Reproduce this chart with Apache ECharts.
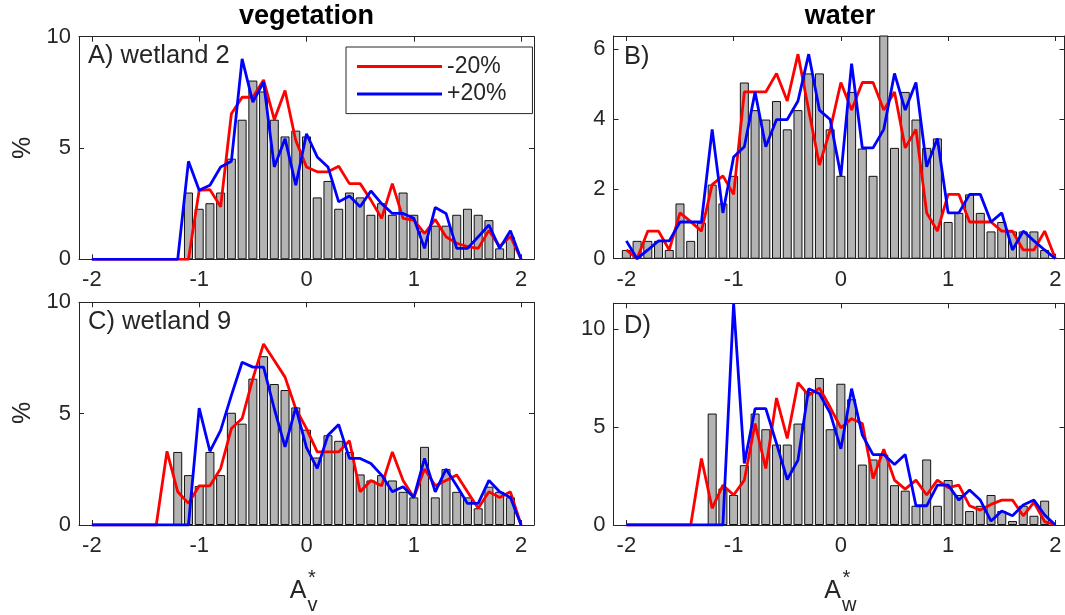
<!DOCTYPE html>
<html>
<head>
<meta charset="utf-8">
<script src="https://cdn.jsdelivr.net/npm/echarts@6/dist/echarts.min.js"></script>
<style>
  html, body { margin: 0; padding: 0; background: #fff; }
  #main { width: 1065px; height: 615px; }
</style>
</head>
<body>
<div id="main"></div>
<script>
// bin centres for the lines (-2 .. 2, step 0.1)
var lineX = [-2.0, -1.9, -1.8, -1.7, -1.6, -1.5, -1.4, -1.3, -1.2, -1.1, -1.0,
  -0.9, -0.8, -0.7, -0.6, -0.5, -0.4, -0.3, -0.2, -0.1, 0.0,
  0.1, 0.2, 0.3, 0.4, 0.5, 0.6, 0.7, 0.8, 0.9, 1.0,
  1.1, 1.2, 1.3, 1.4, 1.5, 1.6, 1.7, 1.8, 1.9, 2.0];

// histogram bin centres
var barXA = [-1.1, -1.0, -0.9, -0.8, -0.7, -0.6, -0.5, -0.4, -0.3, -0.2, -0.1, 0.0,
  0.1, 0.2, 0.3, 0.4, 0.5, 0.6, 0.7, 0.8, 0.9, 1.0, 1.1, 1.2, 1.3, 1.4, 1.5, 1.6, 1.7, 1.8, 1.9];
var barXB = [-2.0, -1.9, -1.8, -1.7, -1.6, -1.5, -1.4, -1.3, -1.2, -1.1, -1.0, -0.9, -0.8, -0.7,
  -0.6, -0.5, -0.4, -0.3, -0.2, -0.1, 0.0, 0.1, 0.2, 0.3, 0.4, 0.5, 0.6, 0.7, 0.8, 0.9,
  1.0, 1.1, 1.2, 1.3, 1.4, 1.5, 1.6, 1.7, 1.8, 1.9];
var barXC = [-1.2, -1.1, -1.0, -0.9, -0.8, -0.7, -0.6, -0.5, -0.4, -0.3, -0.2, -0.1, 0.0,
  0.1, 0.2, 0.3, 0.4, 0.5, 0.6, 0.7, 0.8, 0.9, 1.0, 1.1, 1.2, 1.3, 1.4, 1.5, 1.6, 1.7, 1.8, 1.9];
var barXD = barXC;

// A) vegetation, wetland 2
var barsA = [3.0, 2.27, 2.52, 3.0, 4.52, 6.27, 8.03, 7.54, 6.27, 5.52, 5.78, 5.52,
  2.78, 3.52, 2.27, 3.0, 2.78, 2.0, 2.52, 2.0, 3.0, 2.0, 1.27, 1.51, 1.51, 2.0, 2.27, 2.0, 1.76, 0.49, 1.0];
var redA = [0, 0, 0, 0, 0, 0, 0, 0, 0, 0, 3.1,
  3.13, 2.36, 6.54, 7.28, 7.28, 8.06, 6.27, 7.58, 5.34, 4.15,
  3.93, 3.93, 4.18, 3.4, 3.4, 2.66, 1.84, 3.4, 1.84, 1.76,
  1.16, 1.79, 1.01, 0.72, 0.57, 0.49, 1.3, 0.57, 1.04, 0];
var blueA = [0, 0, 0, 0, 0, 0, 0, 0, 0, 4.4, 3.1,
  3.33, 4.15, 4.4, 9.0, 7.06, 7.96, 4.15, 5.42, 3.33, 5.64,
  4.6, 4.15, 2.58, 2.84, 2.36, 3.07, 2.5, 2.06, 2.06, 1.84,
  0.49, 2.33, 2.06, 0.49, 0.49, 1.01, 1.54, 0.49, 1.28, 0];

// B) water, wetland 2
var barsB = [0.25, 0.51, 0.51, 0.51, 0.25, 1.58, 0.51, 1.03, 2.12, 1.58, 2.37, 5.04, 4.25, 3.98,
  4.51, 3.70, 4.25, 5.30, 5.30, 3.70, 2.37, 4.77, 3.15, 2.37, 6.6, 3.17, 4.77, 3.98, 3.17, 3.44,
  1.05, 1.31, 1.84, 1.31, 0.78, 1.05, 0.78, 0.78, 0.78, 0.25];
var redB = [0.25, 0, 0.79, 0.79, 0.25, 1.31, 1.06, 0.79, 2.12, 2.37, 1.84,
  4.77, 4.77, 4.77, 5.30, 4.51, 5.85, 4.25, 2.68, 3.68, 5.04,
  4.25, 5.04, 5.04, 4.25, 4.77, 3.17, 3.70, 1.31, 0.79, 1.84,
  1.84, 1.05, 1.05, 1.05, 0.79, 0.79, 0.25, 0.25, 0.79, 0];
var blueB = [0.51, 0, 0.25, 0.51, 0.51, 1.05, 1.05, 1.05, 3.70, 1.31, 2.91,
  3.2, 4.77, 3.2, 3.98, 3.98, 4.51, 5.85, 4.25, 3.98, 2.37,
  5.58, 3.17, 3.17, 3.70, 5.30, 4.25, 5.04, 2.63, 3.44, 1.31,
  1.31, 1.84, 1.84, 1.05, 1.31, 0.25, 0.79, 0.51, 0.25, 0];

// C) vegetation, wetland 9
var barsC = [3.28, 2.24, 1.75, 3.28, 2.24, 5.04, 4.55, 6.57, 7.58, 6.33, 6.06, 5.28, 4.28,
  3.03, 4.03, 3.78, 3.28, 2.27, 2.0, 2.24, 2.0, 1.49, 1.24, 3.51, 1.24, 2.51, 1.49, 1.24, 0.75, 1.72, 1.49, 1.24];
var redC = [0, 0, 0, 0, 0, 0, 0, 3.31, 1.49, 0.97, 1.76,
  1.76, 2.54, 4.33, 4.78, 6.57, 8.13, 7.39, 6.64, 5.22, 4.33,
  3.28, 3.28, 3.28, 3.78, 1.49, 2.0, 1.76, 3.28, 2.0, 1.24,
  2.51, 1.76, 2.0, 2.24, 1.49, 0.75, 1.49, 1.24, 1.49, 0];
var blueC = [0, 0, 0, 0, 0, 0, 0, 0, 0, 0, 5.25,
  3.31, 4.25, 5.82, 7.31, 7.09, 7.09, 5.22, 3.51, 5.28, 3.47,
  2.54, 4.03, 4.51, 2.99, 2.99, 2.76, 2.24, 1.49, 1.72, 1.24,
  2.99, 1.49, 2.51, 1.76, 0.97, 0.97, 2.0, 1.49, 1.24, 0];

// D) water, wetland 9
var barsD = [5.68, 1.86, 1.53, 3.05, 5.68, 4.88, 4.10, 4.10, 5.17, 6.78, 7.49, 4.88, 7.20,
  6.41, 3.08, 3.34, 3.59, 2.03, 1.75, 0.98, 3.34, 0.98, 2.29, 1.53, 0.71, 0.98, 1.53, 0.71, 0.20, 0.98, 0.47, 1.24];
var redD = [0, 0, 0, 0, 0, 0, 0, 3.39, 0.85, 2.03, 1.53,
  2.29, 5.17, 2.88, 6.47, 4.41, 7.25, 6.61, 6.98, 6.0, 4.95,
  5.42, 5.17, 2.37, 3.86, 2.29, 1.83, 2.29, 1.53, 2.29, 1.90,
  2.03, 0.98, 0.76, 1.05, 1.27, 1.27, 0.47, 1.15, 0.17, 0];
var blueD = [0, 0, 0, 0, 0, 0, 0, 0, 0, 0, 11.3,
  3.14, 5.93, 5.93, 4.15, 2.32, 3.31, 6.95, 6.69, 5.7, 3.88,
  6.95, 4.58, 3.59, 3.59, 3.08, 3.59, 0.98, 0.98, 2.03, 2.03,
  1.27, 1.78, 1.27, 0.20, 0.71, 0.47, 1.02, 1.27, 0.51, 0];

var xTicks = [-2, -1, 0, 1, 2];
var yTicksVeg = [0, 5, 10];
var yTicksB = [0, 2, 4, 6];
var yTicksD = [0, 5, 10];

var FONT = "'Liberation Sans', Arial, Helvetica, sans-serif";
var INK = '#262626';

var panels = [
  { grid: { left: 79, top: 36.7, width: 455, height: 222.6 }, xMin: -2.12, xMax: 2.12, yMax: 10, yTicks: yTicksVeg,
    barX: barXA, bars: barsA, red: redA, blue: blueA },
  { grid: { left: 613.5, top: 36, width: 451, height: 222.7 }, xMin: -2.12, xMax: 2.085, yMax: 6.37, yTicks: yTicksB,
    barX: barXB, bars: barsB, red: redB, blue: blueB },
  { grid: { left: 79, top: 302.3, width: 455, height: 222.7 }, xMin: -2.12, xMax: 2.12, yMax: 10, yTicks: yTicksVeg,
    barX: barXC, bars: barsC, red: redC, blue: blueC },
  { grid: { left: 613.5, top: 303.3, width: 451, height: 221.7 }, xMin: -2.12, xMax: 2.085, yMax: 11.3, yTicks: yTicksD,
    barX: barXD, bars: barsD, red: redD, blue: blueD }
];

function pairs(xs, ys) {
  return xs.map(function (x, i) { return [x, ys[i]]; });
}

function axisCommon(ticks, showLabels, margin) {
  return {
    axisLine: { show: true, onZero: false, lineStyle: { color: INK, width: 1 } },
    axisTick: { show: true, inside: true, length: 5, customValues: ticks, lineStyle: { color: INK, width: 1 } },
    axisLabel: {
      show: showLabels, customValues: ticks, color: INK, fontSize: 22, fontFamily: FONT, margin: margin,
      formatter: function (v) { return String(v); }
    },
    splitLine: { show: false }
  };
}

var grids = [], xAxes = [], yAxes = [], series = [];
panels.forEach(function (p, i) {
  grids.push(Object.assign({ containLabel: false }, p.grid));
  xAxes.push(Object.assign({ type: 'value', gridIndex: i, min: p.xMin, max: p.xMax, position: 'bottom' },
    axisCommon(xTicks, true, 10)));
  xAxes.push(Object.assign({ type: 'value', gridIndex: i, min: p.xMin, max: p.xMax, position: 'top' },
    axisCommon(xTicks, false, 10)));
  yAxes.push(Object.assign({ type: 'value', gridIndex: i, min: 0, max: p.yMax, position: 'left' },
    axisCommon(p.yTicks, true, 8)));
  yAxes.push(Object.assign({ type: 'value', gridIndex: i, min: 0, max: p.yMax, position: 'right' },
    axisCommon(p.yTicks, false, 8)));

  series.push({
    type: 'bar', name: 'hist', xAxisIndex: 2 * i, yAxisIndex: 2 * i,
    data: pairs(p.barX, p.bars), barWidth: 9, clip: true,
    itemStyle: { color: '#b3b3b3', borderColor: '#111', borderWidth: 1 }
  });
  series.push({
    type: 'line', name: '-20%', xAxisIndex: 2 * i, yAxisIndex: 2 * i,
    data: pairs(lineX, p.red), symbol: 'none', clip: true,
    itemStyle: { color: '#ff0000' }, lineStyle: { color: '#ff0000', width: 2.8 }
  });
  series.push({
    type: 'line', name: '+20%', xAxisIndex: 2 * i, yAxisIndex: 2 * i,
    data: pairs(lineX, p.blue), symbol: 'none', clip: true,
    itemStyle: { color: '#0000ff' }, lineStyle: { color: '#0000ff', width: 2.8 }
  });
});

function txt(text, x, y, size, opts) {
  opts = opts || {};
  var align = opts.align || 'left';
  return {
    type: 'text', x: x, y: y, rotation: opts.rotation || 0, z: 10,
    style: {
      text: text, fill: opts.color || INK, fontSize: size, fontFamily: FONT,
      fontWeight: opts.bold ? 'bold' : 'normal',
      align: align, verticalAlign: 'middle', textAlign: align, textVerticalAlign: 'middle'
    }
  };
}

var graphics = [
  txt('vegetation', 306.5, 17, 27, { align: 'center', bold: true, color: '#000' }),
  txt('water', 840, 17, 27, { align: 'center', bold: true, color: '#000' }),
  txt('%', 23, 148, 25, { align: 'center', rotation: Math.PI / 2 }),
  txt('%', 23, 413, 25, { align: 'center', rotation: Math.PI / 2 }),
  txt('A) wetland 2', 88, 56, 25.5),
  txt('B)', 624, 57, 25.5),
  txt('C) wetland 9', 88, 322, 25.5),
  txt('D)', 624, 326, 25.5),
  // x-axis titles A*_v and A*_w
  txt('A', 306.5, 591, 25, { align: 'right' }),
  txt('*', 308, 578, 20),
  txt('v', 307.5, 605, 20),
  txt('A', 841, 591, 25, { align: 'right' }),
  txt('*', 842.5, 578, 20),
  txt('w', 842, 605, 20)
];

var chart = echarts.init(document.getElementById('main'), null, { renderer: 'canvas' });
chart.setOption({
  animation: false,
  backgroundColor: '#fff',
  grid: grids,
  xAxis: xAxes,
  yAxis: yAxes,
  legend: {
    data: ['-20%', '+20%'],
    left: 346, top: 47, orient: 'vertical',
    icon: 'rect', itemWidth: 85, itemHeight: 3, itemGap: 4.6,
    padding: [8, 26, 8, 11],
    borderColor: INK, borderWidth: 1, backgroundColor: '#fff',
    selectedMode: false,
    textStyle: { fontSize: 23, fontFamily: FONT, color: INK, lineHeight: 22 }
  },
  series: series,
  graphic: graphics
});
</script>
</body>
</html>
